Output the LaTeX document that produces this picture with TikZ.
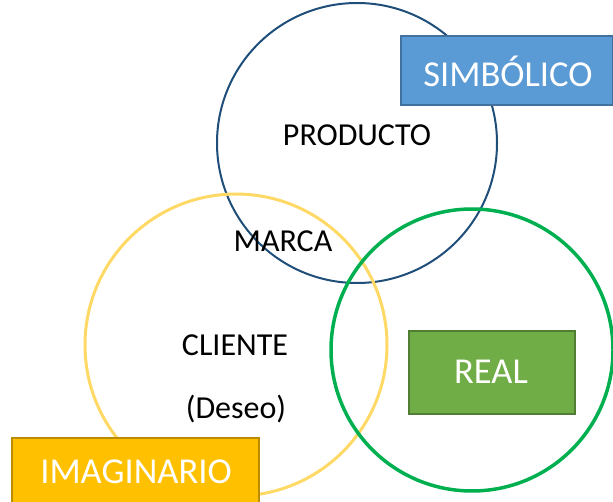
\documentclass[tikz,border=0pt]{standalone}
\usepackage{fontspec}
\setmainfont{Carlito}
\definecolor{cblue}{HTML}{1F4E79}
\definecolor{cyel}{HTML}{FFD966}
\definecolor{cgreen}{HTML}{00B050}
\definecolor{sfill}{HTML}{5B9BD5}
\definecolor{sdraw}{HTML}{41719C}
\definecolor{ifill}{HTML}{FFC000}
\definecolor{idraw}{HTML}{BC8C00}
\definecolor{rfill}{HTML}{70AD47}
\definecolor{rdraw}{HTML}{507E32}
\tikzset{
  body/.style={font=\fontsize{32}{38}\selectfont, text=black, inner sep=0pt},
  label/.style={font=\fontsize{36.5}{42}\selectfont, text=white, inner sep=0pt},
}
\begin{document}
\begin{tikzpicture}[x=1pt,y=-1pt]
\useasboundingbox (0,0) rectangle (613,502);
\draw[cblue, line width=2pt] (357,143) circle[radius=140];
\draw[cyel, line width=3pt] (236,345) circle[radius=151];
\draw[cgreen, line width=3.5pt] (472,350) circle[radius=141];
\filldraw[fill=sfill, draw=sdraw, line width=2pt] (401,36) rectangle (613,105);
\node[label] (simb) at (508,71) {SIMBÓLICO};
\filldraw[fill=ifill, draw=idraw, line width=2pt] (12,438) rectangle (259,503);
\node[label] (imag) at (136,472) {IMAGINARIO};
\filldraw[fill=rfill, draw=rdraw, line width=2pt] (409,331) rectangle (575,414);
\node[label] (real) at (491,372) {REAL};
\node[body] (prod) at (357,135) {PRODUCTO};
\node[body] (marca) at (283,241) {MARCA};
\node[body] (cliente) at (235,345) {CLIENTE};
\node[body] (deseo) at (236,409) {(Deseo)};
\end{tikzpicture}
\end{document}
